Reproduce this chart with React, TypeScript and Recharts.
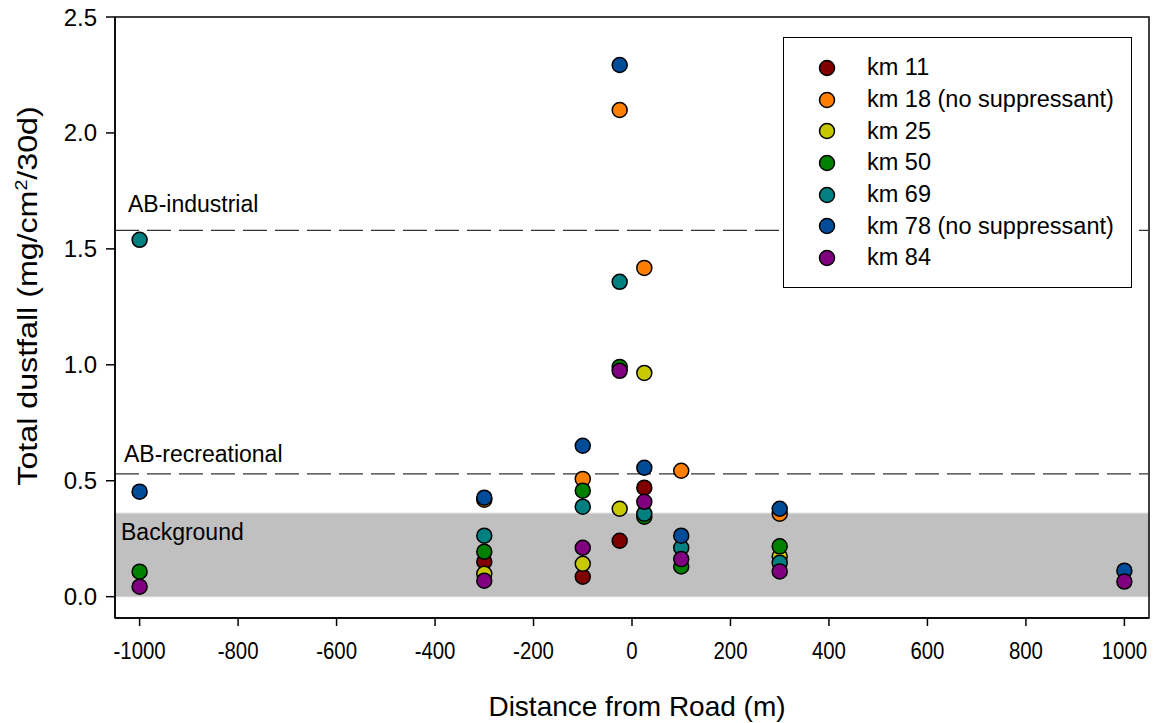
import React from 'react'
import {
  Legend,
  ReferenceArea,
  ReferenceLine,
  Scatter,
  ScatterChart,
  XAxis,
  YAxis,
} from 'recharts'

type Pt = { x: number; y: number }

// distance from road (m) vs total dustfall (mg/cm2/30d)
const KM11: Pt[] = [
  { x: -300, y: 0.151 },
  { x: -100, y: 0.086 },
  { x: -25, y: 0.241 },
  { x: 25, y: 0.47 },
]
const KM18: Pt[] = [
  { x: -300, y: 0.418 },
  { x: -100, y: 0.508 },
  { x: -25, y: 2.099 },
  { x: 25, y: 1.418 },
  { x: 100, y: 0.543 },
  { x: 300, y: 0.358 },
]
const KM25: Pt[] = [
  { x: -300, y: 0.099 },
  { x: -100, y: 0.142 },
  { x: -25, y: 0.379 },
  { x: 25, y: 0.965 },
  { x: 300, y: 0.173 },
]
const KM50: Pt[] = [
  { x: -1000, y: 0.108 },
  { x: -300, y: 0.194 },
  { x: -100, y: 0.457 },
  { x: -25, y: 0.991 },
  { x: 25, y: 0.345 },
  { x: 100, y: 0.13 },
  { x: 300, y: 0.217 },
]
const KM69: Pt[] = [
  { x: -1000, y: 1.539 },
  { x: -300, y: 0.263 },
  { x: -100, y: 0.388 },
  { x: -25, y: 1.358 },
  { x: 25, y: 0.358 },
  { x: 100, y: 0.211 },
  { x: 300, y: 0.146 },
]
const KM78: Pt[] = [
  { x: -1000, y: 0.453 },
  { x: -300, y: 0.427 },
  { x: -100, y: 0.651 },
  { x: -25, y: 2.293 },
  { x: 25, y: 0.556 },
  { x: 100, y: 0.263 },
  { x: 300, y: 0.379 },
  { x: 1000, y: 0.112 },
]
const KM84: Pt[] = [
  { x: -1000, y: 0.043 },
  { x: -300, y: 0.069 },
  { x: -100, y: 0.211 },
  { x: -25, y: 0.974 },
  { x: 25, y: 0.409 },
  { x: 100, y: 0.162 },
  { x: 300, y: 0.109 },
  { x: 1000, y: 0.065 },
]

const SERIES = [
  { name: 'km 11', data: KM11, color: '#800000' },
  { name: 'km 18 (no suppressant)', data: KM18, color: '#FF8000' },
  { name: 'km 25', data: KM25, color: '#C8C800' },
  { name: 'km 50', data: KM50, color: '#008000' },
  { name: 'km 69', data: KM69, color: '#008080' },
  { name: 'km 78 (no suppressant)', data: KM78, color: '#004C99' },
  { name: 'km 84', data: KM84, color: '#800080' },
]

const X_TICKS = [-1000, -800, -600, -400, -200, 0, 200, 400, 600, 800, 1000]
const Y_TICKS = [0, 0.5, 1.0, 1.5, 2.0, 2.5]

const AB_INDUSTRIAL = 1.58
const AB_RECREATIONAL = 0.53
const BACKGROUND_TOP = 0.36

const FONT = '"Liberation Sans", Arial, sans-serif'

function dot(color: string) {
  return (p: any) => (
    <circle cx={p.cx} cy={p.cy} r={7.5} fill={color} stroke="#000" strokeWidth={1.5} />
  )
}

function XTick(p: any) {
  return (
    <text
      transform={`translate(${p.x},${p.y + 18}) scale(0.85,1)`}
      textAnchor="middle"
      fontSize={24}
      fontFamily={FONT}
      fill="#000"
    >
      {p.payload.value}
    </text>
  )
}

function LegendBox() {
  return (
    <div
      style={{
        width: 349,
        height: 251,
        border: '1.5px solid #000',
        background: '#fff',
        fontFamily: FONT,
        fontSize: 23.5,
        boxSizing: 'border-box',
        paddingTop: 14,
      }}
    >
      {SERIES.map((s) => (
        <div key={s.name} style={{ height: 31.7, display: 'flex', alignItems: 'center' }}>
          <svg width={83} height={20} style={{ flex: 'none' }}>
            <circle cx={43} cy={10} r={7.5} fill={s.color} stroke="#000" strokeWidth={1.5} />
          </svg>
          <span style={{ whiteSpace: 'nowrap' }}>{s.name}</span>
        </div>
      ))}
    </div>
  )
}

function lineLabel(text: string, dx: number, dy: number) {
  return (p: any) => (
    <text x={115 + dx} y={p.viewBox.y + dy} fontSize={23} fontFamily={FONT} fill="#000">
      {text}
    </text>
  )
}

export default function App() {
  return (
    <div style={{ position: 'absolute', left: 0, top: 0 }}>
      <ScatterChart width={1157} height={723} margin={{ top: 17, right: 8, bottom: 0, left: 0 }}>
        <XAxis
          type="number"
          dataKey="x"
          domain={[-1050, 1050]}
          ticks={X_TICKS}
          allowDataOverflow
          height={105}
          tickSize={8}
          tickMargin={15}
          tick={<XTick />}
          axisLine={{ stroke: '#000', strokeWidth: 1.5 }}
          tickLine={{ stroke: '#000', strokeWidth: 1.5 }}
          label={(p: any) => (
            <text x={637} y={716} textAnchor="middle" fontSize={28} fontFamily={FONT} fill="#000">
              Distance from Road (m)
            </text>
          )}
        />
        <YAxis
          type="number"
          dataKey="y"
          domain={[-0.092, 2.5]}
          ticks={Y_TICKS}
          allowDataOverflow
          width={115}
          tickSize={9}
          tickMargin={9}
          tickFormatter={(v: number) => v.toFixed(1)}
          tick={{ fontSize: 24, fontFamily: FONT, fill: '#000' }}
          axisLine={{ stroke: '#000', strokeWidth: 1.5 }}
          tickLine={{ stroke: '#000', strokeWidth: 1.5 }}
          label={(p: any) => (
            <text
              transform="translate(37,296) rotate(-90) scale(1.15,1)"
              textAnchor="middle"
              fontSize={28}
              fontFamily={FONT}
              fill="#000"
            >
              Total dustfall (mg/cm
              <tspan dy={-10} fontSize={17}>2</tspan>
              <tspan dy={10}>/30d)</tspan>
            </text>
          )}
        />
        <ReferenceArea
          x1={-1050}
          x2={1050}
          y1={0}
          y2={BACKGROUND_TOP}
          fill="#C0C0C0"
          fillOpacity={1}
          stroke="#D4D4D4"
          strokeWidth={1}
          label={(p: any) => (
            <text x={121} y={540} fontSize={23} fontFamily={FONT} fill="#000">
              Background
            </text>
          )}
        />
        <ReferenceLine
          y={AB_INDUSTRIAL}
          stroke="#333"
          strokeDasharray="24 8"
          strokeWidth={1.2}
          label={lineLabel('AB-industrial', 13, -18)}
        />
        <ReferenceLine
          y={AB_RECREATIONAL}
          stroke="#333"
          strokeDasharray="24 8"
          strokeWidth={1.2}
          label={lineLabel('AB-recreational', 9, -12)}
        />
        <ReferenceArea
          x1={-1050}
          x2={1050}
          y1={-0.092}
          y2={2.5}
          fill="none"
          stroke="#000"
          strokeWidth={1.5}
        />
        {SERIES.map((s) => (
          <Scatter
            key={s.name}
            name={s.name}
            data={s.data}
            fill={s.color}
            shape={dot(s.color)}
            isAnimationActive={false}
          />
        ))}
        <Legend
          layout="horizontal"
          verticalAlign="middle"
          align="center"
          content={<LegendBox />}
          wrapperStyle={{ left: 783, top: 37, width: 349, height: 251 }}
        />
      </ScatterChart>
    </div>
  )
}
